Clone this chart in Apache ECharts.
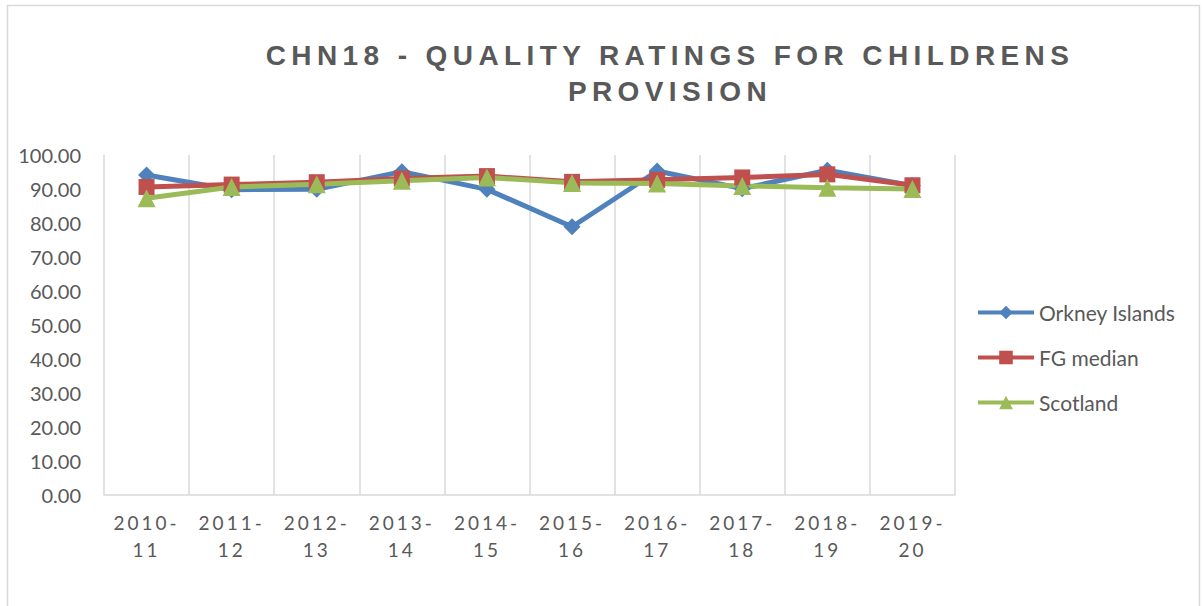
<!DOCTYPE html>
<html>
<head>
<meta charset="utf-8">
<script src="https://cdn.jsdelivr.net/npm/echarts@6/dist/echarts.min.js"></script>
<style>
  html, body { margin: 0; padding: 0; background: #fff; }
  #chart { width: 1203px; height: 606px; }
  /* title and x labels are letter spaced in the original */
  #chart svg text[style*="28px"] { letter-spacing: 5.4px; }
  #chart svg text[style*="19px"] { letter-spacing: 3px; }
</style>
</head>
<body>
<div id="chart"></div>
<script>
var categories = ['2010-11', '2011-12', '2012-13', '2013-14', '2014-15', '2015-16', '2016-17', '2017-18', '2018-19', '2019-20'];
var orkney = [94.1, 89.8, 89.9, 95.1, 89.9, 78.9, 95.3, 90.1, 95.5, 91.0];//Orkney Islands
var fg_median = [90.6, 91.3, 92.0, 93.1, 93.8, 92.1, 92.7, 93.4, 94.3, 91.1];//FG median
var scotland = [87.3, 90.6, 91.4, 92.4, 93.4, 91.8, 91.6, 90.9, 90.4, 90.0];//Scotland
var y_ticks = [0, 10, 20, 30, 40, 50, 60, 70, 80, 90, 100];

var text_color = '#595959';
var grid_color = '#d9d9d9';

var myChart = echarts.init(document.getElementById('chart'), null, {renderer: 'svg'});

var option = {
  backgroundColor: '#fff',
  animation: false,
  title: {
    text: 'CHN18 - QUALITY RATINGS FOR CHILDRENS\nPROVISION',
    left: 665,
    top: 32,
    textAlign: 'center',
    textStyle: {
      color: text_color,
      fontFamily: 'Liberation Sans',
      fontWeight: 'bold',
      fontSize: 28,
      lineHeight: 36
    }
  },
  graphic: [
    {
      type: 'rect',
      shape: {x: 7.5, y: 5.5, width: 1192, height: 620},
      style: {fill: 'none', stroke: grid_color, lineWidth: 1.5},
      silent: true
    }
  ],
  legend: {
    orient: 'vertical',
    left: 971,
    top: 297,
    itemWidth: 56,
    itemHeight: 17,
    itemGap: 24,
    lineStyle: {width: 4},
    textStyle: {
      color: text_color,
      fontFamily: 'Lato',
      fontSize: 21
    },
    data: ['Orkney Islands', 'FG median', 'Scotland']
  },
  grid: {
    left: 104,
    right: 248,
    top: 155,
    bottom: 111
  },
  xAxis: {
    type: 'category',
    data: categories,
    boundaryGap: true,
    axisLine: {lineStyle: {color: grid_color, width: 1.5}},
    axisTick: {show: false},
    splitLine: {show: true, lineStyle: {color: grid_color, width: 1.5}},
    axisLabel: {
      interval: 0,
      margin: 14,
      color: text_color,
      fontFamily: 'Lato',
      fontSize: 19,
      lineHeight: 27,
      formatter: function (v) { return v.replace('-', '-\n'); }
    }
  },
  yAxis: {
    type: 'value',
    min: y_ticks[0],
    max: y_ticks[y_ticks.length - 1],
    interval: 10,
    axisLine: {show: false},
    axisTick: {show: false},
    splitLine: {show: false},
    axisLabel: {
      margin: 23,
      color: text_color,
      fontFamily: 'Lato',
      fontSize: 20,
      formatter: function (v) { return v.toFixed(2); }
    }
  },
  series: [
    {
      name: 'Orkney Islands',
      type: 'line',
      data: orkney,
      symbol: 'diamond',
      symbolSize: 17,
      itemStyle: {color: '#4f81bd'},
      lineStyle: {color: '#4f81bd', width: 5}
    },
    {
      name: 'FG median',
      type: 'line',
      data: fg_median,
      symbol: 'rect',
      symbolSize: 16,
      itemStyle: {color: '#c0504d'},
      lineStyle: {color: '#c0504d', width: 5}
    },
    {
      name: 'Scotland',
      type: 'line',
      data: scotland,
      symbol: 'triangle',
      symbolSize: 18,
      itemStyle: {color: '#9bbb59'},
      lineStyle: {color: '#9bbb59', width: 5}
    }
  ]
};

myChart.setOption(option);
</script>
</body>
</html>
